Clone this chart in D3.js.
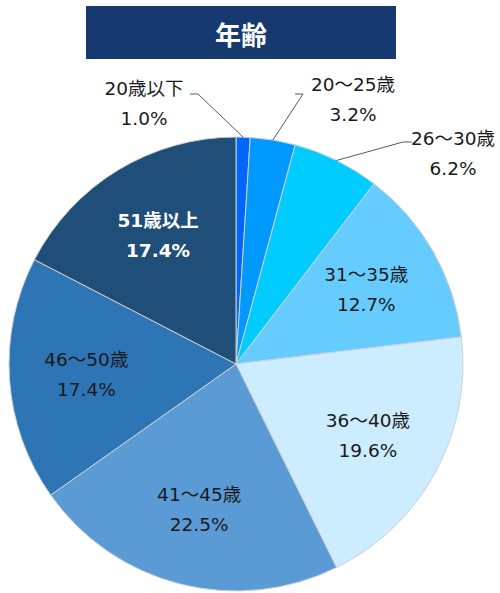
<!DOCTYPE html>
<html>
<head>
<meta charset="utf-8">
<script src="https://cdn.jsdelivr.net/npm/d3@7"></script>
<style>
  body { margin: 0; background: #fff; }
  svg { display: block; font-family: "DejaVu Sans", "Noto Sans CJK JP", sans-serif; }
</style>
</head>
<body>
<div id="chart"></div>
<script>
// data
const categories = ["20歳以下", "20～25歳", "26～30歳", "31～35歳", "36～40歳", "41～45歳", "46～50歳", "51歳以上"];
const values = [1.0, 3.2, 6.2, 12.7, 19.6, 22.5, 17.4, 17.4];
const colors = ["#0066FF", "#0099FF", "#00CCFF", "#66CCFF", "#CCECFF", "#5B9BD5", "#2E75B6", "#1F4E79"];
const title = "年齢";

const width = 500, height = 593;
const cx = 236, cy = 364, radius = 227;

// small slices get labels outside with leader lines (elbow + text position, relative to centre)
const outside = {
    "20歳以下": { elbow: [-38, -270], end: [-46, -270], text: [-92, -276] },
    "20～25歳": { elbow: [67, -270], end: [59, -270], text: [117, -280] },
    "26～30歳": { elbow: [167, -222], end: [176, -222], text: [217, -226] }
};

const svg = d3.select("#chart").append("svg")
    .attr("width", width)
    .attr("height", height);

// title box
svg.append("rect")
    .attr("x", 86).attr("y", 6)
    .attr("width", 310).attr("height", 53)
    .attr("fill", "#163A70");
svg.append("text")
    .attr("x", 241).attr("y", 33)
    .attr("text-anchor", "middle")
    .attr("dominant-baseline", "central")
    .attr("fill", "#fff")
    .style("font-family", "'Noto Sans CJK JP', sans-serif")
    .style("font-size", "26px")
    .style("font-weight", "bold")
    .text(title);

const data = categories.map((c, i) => ({ name: c, value: values[i], color: colors[i] }));

const pie = d3.pie().sort(null).value(d => d.value);
const arc = d3.arc().innerRadius(0).outerRadius(radius);
const labelArc = d3.arc().innerRadius(150).outerRadius(150);
const edgeArc = d3.arc().innerRadius(radius).outerRadius(radius);

const g = svg.append("g").attr("transform", `translate(${cx},${cy})`);

const arcs = pie(data);

g.selectAll(".slice")
    .data(arcs)
    .join("path")
    .attr("class", "slice")
    .attr("d", arc)
    .attr("fill", d => d.data.color)
    .attr("stroke", "#d0d0d0")
    .attr("stroke-width", 1);

// inside labels
const inside = arcs.filter(d => !outside[d.data.name]);
const inLabels = g.selectAll(".inlabel")
    .data(inside)
    .join("text")
    .attr("class", "inlabel")
    .attr("transform", d => `translate(${labelArc.centroid(d)})`)
    .attr("text-anchor", "middle")
    .attr("fill", d => d.data.name === "51歳以上" ? "#fff" : "#1a1a1a")
    .style("font-size", "18.5px")
    .style("font-weight", d => d.data.name === "51歳以上" ? "bold" : "normal");
inLabels.append("tspan").attr("x", 0).attr("y", -15).attr("dominant-baseline", "central").text(d => d.data.name);
inLabels.append("tspan").attr("x", 0).attr("y", 15).attr("dominant-baseline", "central").text(d => d3.format(".1f")(d.data.value) + "%");

// outside labels with leader lines
const outArcs = arcs.filter(d => outside[d.data.name]);
g.selectAll(".leader")
    .data(outArcs)
    .join("polyline")
    .attr("class", "leader")
    .attr("points", d => {
        const o = outside[d.data.name];
        return [edgeArc.centroid(d), o.elbow, o.end].map(p => p.join(",")).join(" ");
    })
    .attr("fill", "none")
    .attr("stroke", "#595959")
    .attr("stroke-width", 1);

const outLabels = g.selectAll(".outlabel")
    .data(outArcs)
    .join("text")
    .attr("class", "outlabel")
    .attr("transform", d => `translate(${outside[d.data.name].text})`)
    .attr("text-anchor", "middle")
    .attr("fill", "#1a1a1a")
    .style("font-size", "18.5px");
outLabels.append("tspan").attr("x", 0).attr("y", 0).attr("dominant-baseline", "central").text(d => d.data.name);
outLabels.append("tspan").attr("x", 0).attr("y", 30).attr("dominant-baseline", "central").text(d => d3.format(".1f")(d.data.value) + "%");
</script>
</body>
</html>
